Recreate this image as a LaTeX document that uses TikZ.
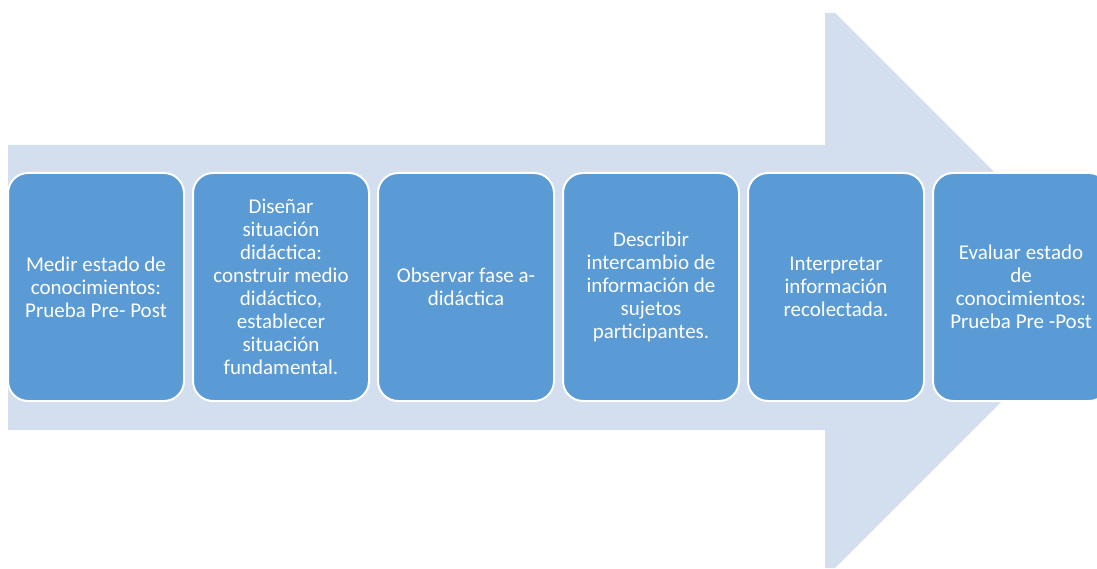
\documentclass[tikz,border=0pt]{standalone}
\usepackage{fontspec}
\setmainfont{Carlito}
\definecolor{arrowbg}{HTML}{D3DEEF}
\definecolor{boxfill}{HTML}{5B9BD5}
\begin{document}
\begin{tikzpicture}[x=1pt,y=-1pt,
  stepbox/.style={draw=white,line width=2pt,fill=boxfill,rounded corners=20pt,
    minimum width=176pt,minimum height=228pt,text=white,align=center,
    font=\fontsize{21pt}{23pt}\selectfont,inner sep=0pt}]
\useasboundingbox (0,0) rectangle (1097,569);
\clip (0,0) rectangle (1097,569);
\fill[arrowbg] (8,145) -- (825,145) -- (825,13) -- (835,13) -- (1112.5,290.5) -- (835,568) -- (825,568) -- (825,430) -- (8,430) -- cycle;
\node[stepbox] (b1) at (96,287) {Medir estado de\\conocimientos:\\Prueba Pre- Post};
\node[stepbox] (b2) at (281,287) {Diseñar\\situación\\didáctica:\\construir medio\\didáctico,\\establecer\\situación\\fundamental.};
\node[stepbox] (b3) at (466,287) {Observar fase a-\\didáctica};
\node[stepbox] (b4) at (651,287) {Describir\\intercambio de\\información de\\sujetos\\participantes.};
\node[stepbox] (b5) at (836,287) {Interpretar\\información\\recolectada.};
\node[stepbox] (b6) at (1021,287) {Evaluar estado\\de\\conocimientos:\\Prueba Pre -Post};
\end{tikzpicture}
\end{document}
